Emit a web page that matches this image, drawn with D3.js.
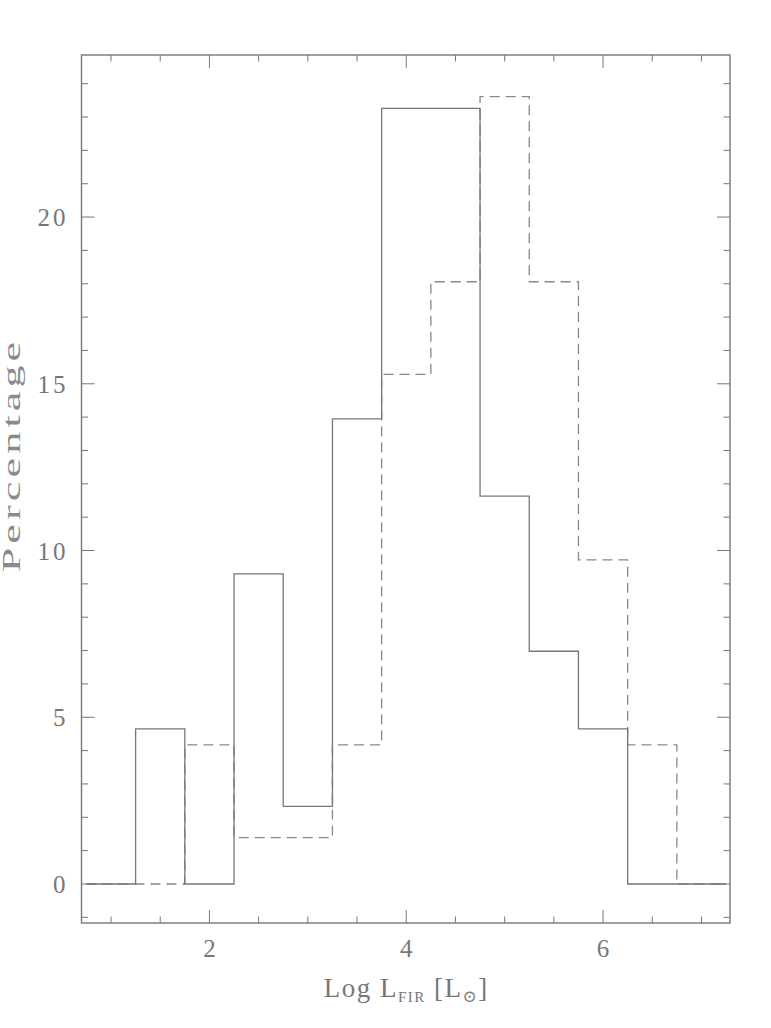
<!DOCTYPE html>
<html>
<head>
<meta charset="utf-8">
<script src="https://cdn.jsdelivr.net/npm/d3@7"></script>
<style>
  body { margin: 0; background: #fff; overflow: hidden; }
  svg { display: block; }
  text { font-family: "Liberation Serif", "DejaVu Serif", serif; fill: #777; }
</style>
</head>
<body>
<svg id="chart" width="771" height="1028"></svg>
<script>
// bin edges (Log L_FIR), bin width 0.5
const binEdges = [0.75, 1.25, 1.75, 2.25, 2.75, 3.25, 3.75, 4.25, 4.75, 5.25, 5.75, 6.25, 6.75, 7.25];
// percentage per bin, solid sample
const solidPct = [0, 4.65, 0, 9.30, 2.33, 13.95, 23.26, 23.26, 11.63, 6.98, 4.65, 0, 0];
// percentage per bin, dashed sample
const dashedPct = [0, 0, 4.17, 1.39, 1.39, 4.17, 15.28, 18.06, 23.61, 18.06, 9.72, 4.17, 0];
const xTicks = [2, 4, 6];
const yTicks = [0, 5, 10, 15, 20];

const svg = d3.select('#chart');
const margin = { top: 55, right: 41, bottom: 105, left: 81.5 };
const width = +svg.attr('width');
const height = +svg.attr('height');
const innerWidth = width - margin.left - margin.right;
const innerHeight = height - margin.top - margin.bottom;

const xScale = d3.scaleLinear().domain([0.7, 7.29]).range([0, innerWidth]);
const yScale = d3.scaleLinear().domain([-1.17, 24.86]).range([innerHeight, 0]);

const g = svg.append('g').attr('transform', `translate(${margin.left},${margin.top})`);
const axisColour = '#777';

// frame
g.append('rect')
  .attr('width', innerWidth).attr('height', innerHeight)
  .attr('fill', 'none').attr('stroke', axisColour).attr('stroke-width', 1.4);

// ticks on all four sides
const xMinor = d3.range(1, 7.01, 0.5).filter(v => !xTicks.includes(v));
const yMinor = d3.range(-1, 25, 1).filter(v => !yTicks.includes(v));
const tickG = g.append('g').attr('stroke', axisColour).attr('stroke-width', 1);
const addX = (vals, len) => vals.forEach(v => {
  const x = xScale(v);
  tickG.append('line').attr('x1', x).attr('x2', x).attr('y1', innerHeight).attr('y2', innerHeight - len);
  tickG.append('line').attr('x1', x).attr('x2', x).attr('y1', 0).attr('y2', len);
});
const addY = (vals, len) => vals.forEach(v => {
  const y = yScale(v);
  tickG.append('line').attr('y1', y).attr('y2', y).attr('x1', 0).attr('x2', len);
  tickG.append('line').attr('y1', y).attr('y2', y).attr('x1', innerWidth).attr('x2', innerWidth - len);
});
addX(xTicks, 13);
addX(xMinor, 6.5);
addY(yTicks, 13);
addY(yMinor, 6.5);

// tick labels
g.selectAll('.xlab').data(xTicks).join('text')
  .attr('class', 'xlab')
  .attr('x', d => xScale(d)).attr('y', innerHeight + 34)
  .attr('text-anchor', 'middle').attr('font-size', 25)
  .text(d => d);
g.selectAll('.ylab').data(yTicks).join('text')
  .attr('class', 'ylab')
  .attr('x', -13).attr('y', d => yScale(d) + 9)
  .attr('text-anchor', 'end').attr('font-size', 25)
  .attr('letter-spacing', 3)
  .text(d => d);

// axis titles (wide, thin lettering)
svg.append('text')
  .attr('transform', `translate(20,455) rotate(-90) scale(1.7,1)`)
  .attr('text-anchor', 'middle').attr('font-size', 26)
  .style('fill', '#8a8a8a')
  .attr('letter-spacing', 2.4)
  .text('Percentage');

const xt = svg.append('text')
  .attr('x', xScale(4) + margin.left).attr('y', 997)
  .attr('text-anchor', 'middle').attr('font-size', 27)
  .attr('letter-spacing', 1.5);
xt.append('tspan').text('Log  L');
xt.append('tspan').attr('font-size', 15).attr('dy', 5).text('FIR');
xt.append('tspan').attr('dy', -5).text('  [L');
xt.append('tspan').attr('font-size', 17).attr('dy', 5).text('⊙');
xt.append('tspan').attr('dy', -5).text(']');

// histograms as step lines
const stepData = pct => {
  const pts = [];
  pct.forEach((p, i) => {
    pts.push([binEdges[i], p]);
    pts.push([binEdges[i + 1], p]);
  });
  return pts;
};
const line = d3.line().x(d => xScale(d[0])).y(d => yScale(d[1]));

g.append('path')
  .attr('d', line(stepData(dashedPct)))
  .attr('fill', 'none').attr('stroke', '#888').attr('stroke-width', 1.3)
  .attr('stroke-dasharray', '10,6');

g.append('path')
  .attr('d', line(stepData(solidPct)))
  .attr('fill', 'none').attr('stroke', '#777').attr('stroke-width', 1.3);
</script>
</body>
</html>
